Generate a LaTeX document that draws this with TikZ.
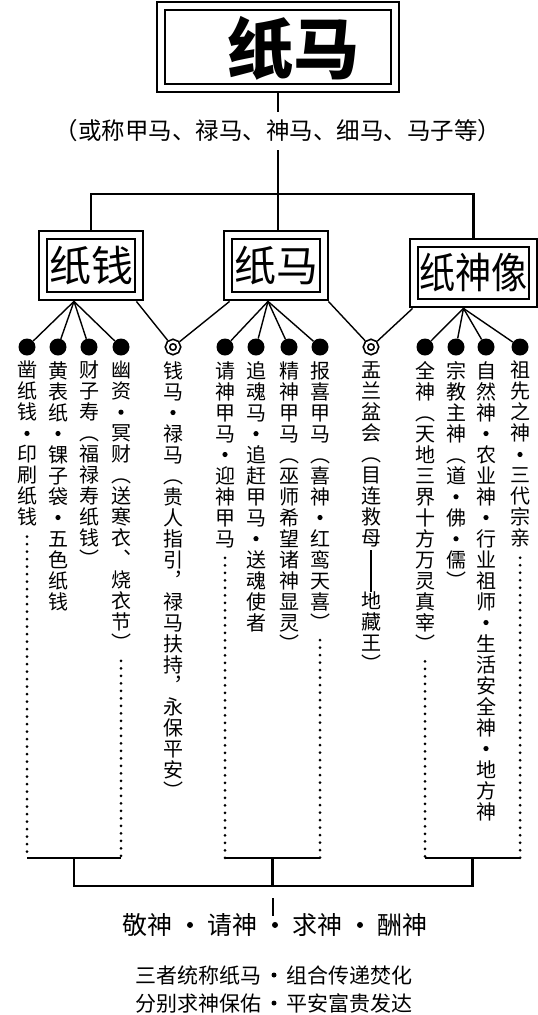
\documentclass[tikz,border=0pt]{standalone}
\usepackage{fontspec}
\setmainfont{Noto Sans CJK SC}
\usepackage{graphicx}
\usetikzlibrary{positioning,fit,calc}
% filled dot used as separator: radius, raise
\newcommand\sepbul[2]{\raisebox{#2}{\tikz\fill (0,0) circle (#1);}}
% one character per cell, stacked top to bottom
\def\vbul{•}
\def\vbar{︱}
\makeatletter
\newcommand\vstack[1]{\vbox{\baselineskip=21pt\lineskiplimit=-30pt\lineskip=0pt
  \@tfor\vch:=#1\do{%
    \ifx\vch\vbul\hbox to 21pt{\hss\sepbul{2.6pt}{4.9pt}\hss}%
    \else\ifx\vch\vbar\hbox to 21pt{\hss\vrule width 1.2pt height 16pt depth 5pt\hss}%
    \else\hbox to 21pt{\hss\vch\hss}\fi\fi}}}
\makeatother
\newcommand\sdot[3]{\makebox[#1]{\sepbul{#2}{#3}}}
\tikzset{
  innerbox/.style={draw, line width=1.2pt, inner sep=0pt, align=center},
  outerbox/.style={draw, line width=2.6pt, inner sep=7.5pt},
  bar/.style={line width=2.8pt},
  link/.style={line width=1.4pt},
  fulldot/.style={circle, fill=black, minimum size=17pt, inner sep=0pt},
  ringdot/.style={circle, draw, double, double distance=2.4pt, line width=1.7pt,
                  minimum size=11pt, inner sep=0pt, outer sep=3pt},
  coltext/.style={inner sep=0pt, anchor=north, font=\fontsize{20}{21}\selectfont},
  dotline/.style={line width=3pt, line cap=round, dash pattern=on 0pt off 7.5pt},
  boxfont/.style={font=\fontsize{42}{42}\selectfont}
}
\begin{document}
\begin{tikzpicture}[x=1pt,y=-1pt]
  \useasboundingbox (0,0) rectangle (538,1015);

  % top
  \node[innerbox, minimum width=226pt, minimum height=74pt] (zhimain) at (278,47) {};
  \node[outerbox, fit=(zhimain)] (zhima) {};
  \node[font=\fontsize{66}{66}\selectfont\bfseries] (title) at (293,48) {纸马};
  \node[font=\fontsize{23.5}{23.5}\selectfont, inner ysep=8pt] (alias) at (278,131)
       {（或称甲马、禄马、神马、细马、马子等）};

  % three kinds
  \node[innerbox, boxfont, minimum width=88pt, minimum height=53pt] (qianin) at (91,265.5) {纸钱};
  \node[outerbox, fit=(qianin)] (qian) {};
  \node[innerbox, boxfont, minimum width=88pt, minimum height=53pt] (main) at (276,265.5) {纸马};
  \node[outerbox, fit=(main)] (ma) {};
  \node[innerbox, boxfont, minimum width=111pt, minimum height=52pt] (xiangin) at (473.5,273)
       {\scalebox{0.86}[1]{纸神像}};
  \node[outerbox, fit=(xiangin)] (xiang) {};

  \coordinate (bar) at (278,194);
  \draw[bar] (zhima.south) -- (alias.north);
  \draw[bar] (alias.south) -- (alias.south |- ma.north);
  \draw[bar] (qian.north) |- (bar) -| (xiang.north);

  % dots
  \foreach \n/\x in {1/27,2/58,3/89,4/121,6/225,7/256,8/289,9/320,11/425,12/456,13/486,14/520}
    \node[fulldot] (d\n) at (\x,347) {};
  \node[ringdot] (d5) at (173,347) {};
  \node[ringdot] (d10) at (371,347) {};

  \coordinate (qfan) at ([xshift=-17pt]qian.south);
  \coordinate (mfan) at ([xshift=-8pt]ma.south);
  \coordinate (xfan) at ([xshift=-10pt]xiang.south);
  \foreach \n in {1,...,4} \draw[link] (qfan) -- (d\n);
  \foreach \n in {6,...,9} \draw[link] (mfan) -- (d\n);
  \foreach \n in {11,...,14} \draw[link] (xfan) -- (d\n);
  \draw[link] ([xshift=-8pt]qian.south east) -- (d5);
  \draw[link] ([xshift=7pt]ma.south west) -- (d5);
  \draw[link] ([xshift=-1pt]ma.south east) -- (d10);
  \draw[link] ([xshift=4pt]xiang.south west) -- (d10);

  % vertical columns
  \foreach \n/\x/\s in {
    1/27/凿纸钱•印刷纸钱,
    2/58/黄表纸•锞子袋•五色纸钱,
    3/89/财子寿︵福禄寿纸钱︶,
    4/121/幽资•冥财︵送寒衣︑烧衣节︶,
    5/173/钱马•禄马︵贵人指引︐禄马扶持︐永保平安︶,
    6/225/请神甲马•迎神甲马,
    7/256/追魂马•追赶甲马•送魂使者,
    8/289/精神甲马︵巫师希望诸神显灵︶,
    9/320/报喜甲马︵喜神•红鸾天喜︶,
    10/371/盂兰盆会︵目连救母︱︱地藏王︶,
    11/425/全神︵天地三界十方万灵真宰︶,
    12/456/宗教主神︵道•佛•儒︶,
    13/486/自然神•农业神•行业祖师•生活安全神•地方神,
    14/520/祖先之神•三代宗亲} {
    \node[coltext] (c\n) at (\x,361) {\expandafter\vstack\expandafter{\s}};
  }

  % dotted runs and the bracket below
  \coordinate (foot) at (0,858);
  \coordinate (base) at (0,886);
  \foreach \n in {1,4,6,9,11,14}
    \draw[dotline] ($(c\n.south)+(0,10)$) -- (c\n.south |- foot);
  \foreach \a/\b/\g in {1/4/g1,6/9/g2,11/14/g3} {
    \draw[link] (c\a.south |- foot) -- (c\b.south |- foot);
    \coordinate (\g) at ($(c\a.south |- foot)!0.5!(c\b.south |- foot)$);
  }
  \draw[bar] (g1) |- (g2 |- base) -| (g3);
  \draw[bar] (g2) -- (g2 |- base);

  \node[font=\fontsize{25}{25}\selectfont] (aim) at (275,925)
       {敬神\sdot{1.4em}{3pt}{6.5pt}请神\sdot{1.4em}{3pt}{6.5pt}求神\sdot{1.4em}{3pt}{6.5pt}酬神};
  \coordinate (tick) at ($(g2 |- base)+(0,12)$);
  \draw[line width=2pt] (tick) -- ++(0,18);

  \node[font=\fontsize{21}{21}\selectfont] (sum1) at (274,975)
       {三者统称纸马\sdot{1.15em}{2.5pt}{5.5pt}组合传递焚化};
  \node[font=\fontsize{21}{21}\selectfont] (sum2) at (274,1003)
       {分别求神保佑\sdot{1.15em}{2.5pt}{5.5pt}平安富贵发达};
\end{tikzpicture}
\end{document}
